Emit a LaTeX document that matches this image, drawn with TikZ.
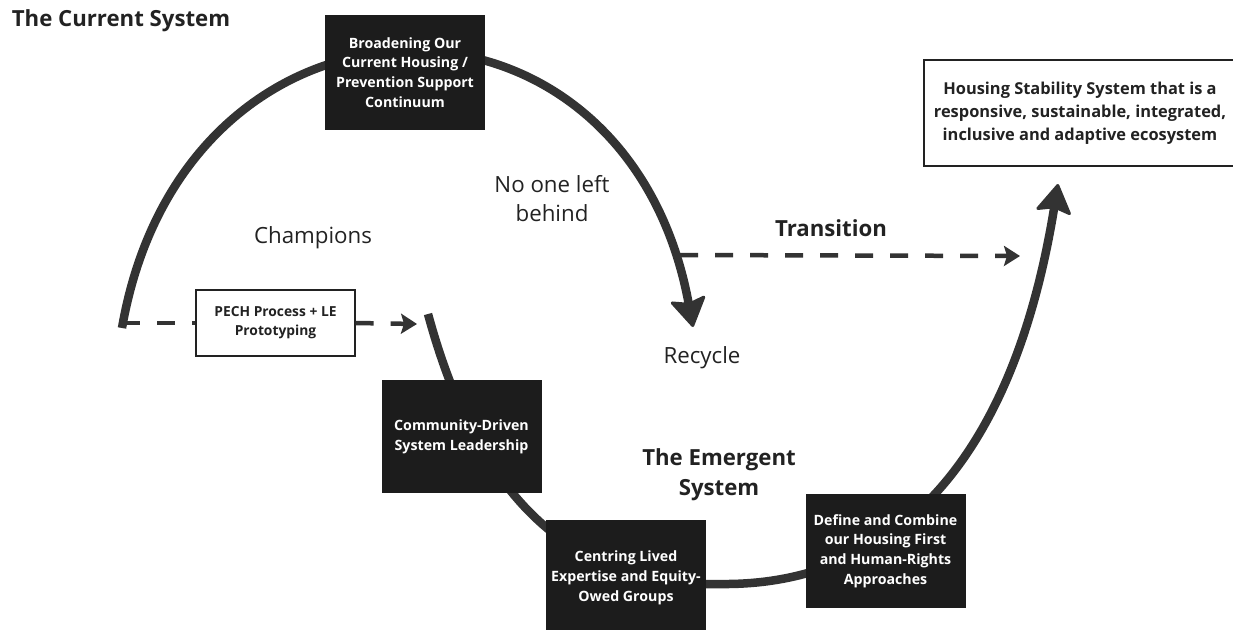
\documentclass[tikz,border=0pt]{standalone}
\usepackage{fontspec}
\setmainfont{Open Sans}
\usetikzlibrary{arrows.meta}
\definecolor{inkgray}{HTML}{333333}
\definecolor{boxblack}{HTML}{1C1C1C}
\definecolor{textgray}{HTML}{222222}

\begin{document}
\begin{tikzpicture}[x=1pt, y=-1pt,
		flow/.style={line width=8.5pt, draw=inkgray},
		dashflow/.style={line width=4.5pt, draw=inkgray, dash pattern=on 18pt off 17pt},
		bigtip/.tip={Stealth[length=31pt, width=38pt, inset=5pt, line width=3pt, round]},
		smalltip/.tip={Stealth[length=16pt, width=20pt, inset=3pt]},
		darkbox/.style={fill=boxblack, text=white, font=\bfseries\fontsize{14.2}{19.8}\selectfont, align=center, inner sep=0pt, minimum width=160pt},
		whitebox/.style={draw=textgray, line width=1.3pt, fill=white, text=textgray, align=center, inner sep=0pt},
		heading/.style={text=textgray, font=\bfseries\fontsize{22.2}{30}\selectfont, align=center},
		plain/.style={text=textgray, font=\fontsize{22.3}{29}\selectfont, align=center}]
		\useasboundingbox (0,0) rectangle (1233,629);

		\coordinate (cur-start) at (122,328);
		\coordinate (recycle-tip) at (693,327);
		\coordinate (low-start) at (428,314);
		\coordinate (low-mid) at (720,584);
		\coordinate (goal-tip) at (1058,184);
		\coordinate (pech-tip) at (417,324);
		\coordinate (trans-start) at (680,255);
		\coordinate (trans-tip) at (1020,256);

		\draw[flow, -{bigtip}] (cur-start) .. controls (185,-35) and (625,-40) .. (recycle-tip);
		\draw[flow, -{bigtip}] (low-start) .. controls (465,450) and (540,590) .. (low-mid)
			.. controls (880,586) and (1010,480) .. (goal-tip);

		\node[darkbox, minimum height=115pt] (broad) at (405,72.5) {Broadening Our\\Current Housing /\\Prevention Support\\Continuum};
		\node[darkbox, minimum height=113pt] (community) at (461.5,436.5) {Community-Driven\\System Leadership};
		\node[darkbox, minimum height=116pt] (centring) at (626,578) {Centring Lived\\Expertise and Equity-\\Owed Groups};
		\node[darkbox, minimum height=114pt] (define) at (885.5,551) {Define and Combine\\our Housing First\\and Human-Rights\\Approaches};

		\node[whitebox, minimum width=159pt, minimum height=66pt, font=\bfseries\fontsize{13.8}{19}\selectfont] (pech) at (275.5,323) {PECH Process + LE\\Prototyping};
		\node[whitebox, minimum width=312pt, minimum height=106pt, font=\bfseries\fontsize{16.4}{23}\selectfont] (goal) at (1080,113) {Housing Stability System that is a\\responsive, sustainable, integrated,\\inclusive and adaptive ecosystem};

		\draw[dashflow] (cur-start |- pech.west) -- (pech.west);
		\draw[dashflow, -{smalltip}] (pech.east) -- (pech-tip);
		\draw[dashflow, -{smalltip}] (trans-start) -- (trans-tip);

		\node[heading] (current) at (121,21) {The Current System};
		\node[heading] (emergent) at (719,475) {The Emergent\\System};
		\node[heading] (transition) at (831,228) {Transition};
		\node[plain] (champions) at (313,238) {Champions};
		\node[plain] (noone) at (552,199) {No one left\\behind};
		\node[plain] (recycle) at (702,358) {Recycle};
	\end{tikzpicture}
\end{document}
